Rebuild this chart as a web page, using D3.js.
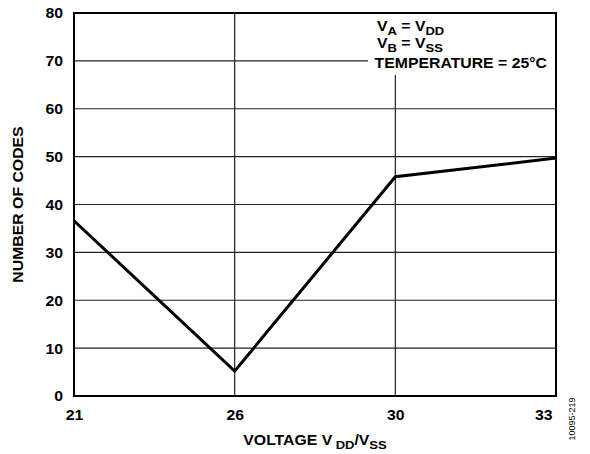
<!DOCTYPE html>
<html><head><meta charset="utf-8">
<script src="https://cdn.jsdelivr.net/npm/d3@7"></script>
<style>body{margin:0;background:#fff}svg{display:block}text{font-family:"Liberation Sans",Arial,sans-serif}</style>
</head><body>
<svg id="c" width="590" height="454"></svg>
<script>
const categories = ["21", "26", "30", "33"];
const codes = [36.6, 5.2, 45.8, 49.7];
const yTicks = [0, 10, 20, 30, 40, 50, 60, 70, 80];

const FONT = '"Liberation Sans",Arial,sans-serif';
const SX = 1.13; // glyph widening to mimic the wide bold face
const svg = d3.select("#c");
const m = {l: 74, r: 556, t: 13, b: 396};
const x = d3.scalePoint().domain(categories).range([m.l, m.r]);
const y = d3.scaleLinear().domain([0, 80]).range([m.b, m.t]);

// gridlines
svg.append("g").selectAll("line").data(yTicks.slice(1, -1)).join("line")
  .attr("x1", m.l).attr("x2", m.r).attr("y1", d => y(d)).attr("y2", d => y(d))
  .attr("stroke", "#222").attr("stroke-width", 1.2);
svg.append("g").selectAll("line").data(categories.slice(1, -1)).join("line")
  .attr("x1", d => x(d)).attr("x2", d => x(d)).attr("y1", m.t).attr("y2", m.b)
  .attr("stroke", "#222").attr("stroke-width", 1.2);

// legend background
svg.append("rect").attr("x", 368).attr("y", m.t + 1).attr("width", m.r - 368 - 1).attr("height", 61).attr("fill", "#fff");

// border
svg.append("rect").attr("x", m.l).attr("y", m.t).attr("width", m.r - m.l).attr("height", m.b - m.t)
  .attr("fill", "none").attr("stroke", "#000").attr("stroke-width", 2);

// data line
const data = categories.map((c, i) => ({c, v: codes[i]}));
svg.append("path").datum(data)
  .attr("d", d3.line().x(d => x(d.c)).y(d => y(d.v)))
  .attr("fill", "none").attr("stroke", "#000").attr("stroke-width", 3).attr("stroke-linejoin", "miter");

// y axis tick labels
const ya = svg.append("g").attr("transform", `translate(${m.l},0)`)
  .call(d3.axisLeft(y).tickValues(yTicks).tickSize(0).tickPadding(0));
ya.select(".domain").remove();
ya.selectAll(".tick text").attr("x", null).attr("dy", "0.35em")
  .attr("transform", `translate(-11,0) scale(${SX},1)`)
  .attr("font-size", 14).attr("font-weight", "bold").attr("fill", "#000").attr("font-family", FONT);

// x axis tick labels
const xa = svg.append("g").attr("transform", `translate(0,${m.b})`)
  .call(d3.axisBottom(x).tickSize(0).tickPadding(0));
xa.select(".domain").remove();
xa.selectAll(".tick text").attr("y", null).attr("dy", null)
  .attr("transform", d => `translate(${d === categories[categories.length - 1] ? -4 : 0},24) scale(${SX},1)`)
  .attr("text-anchor", d => d === categories[categories.length - 1] ? "end" : "middle")
  .attr("font-size", 14).attr("font-weight", "bold").attr("fill", "#000").attr("font-family", FONT);

// axis titles
const xt = svg.append("text").attr("transform", `translate(${(m.l + m.r) / 2},445) scale(${SX},1)`)
  .attr("text-anchor", "middle").attr("font-size", 14).attr("font-weight", "bold");
xt.append("tspan").text("VOLTAGE V");
xt.append("tspan").text("DD").attr("font-size", 11.5).attr("dy", 4).attr("dx", 3);
xt.append("tspan").text("/V").attr("dy", -4);
xt.append("tspan").text("SS").attr("font-size", 11.5).attr("dy", 4);

svg.append("text").attr("transform", `translate(23,${(m.t + m.b) / 2}) rotate(-90) scale(${SX},1)`)
  .attr("text-anchor", "middle").attr("font-size", 14).attr("font-weight", "bold").text("NUMBER OF CODES");

// legend
const lx = 377;
function subLine(main1, s1, main2, s2, yy) {
  const tx = svg.append("text").attr("transform", `translate(${lx},${yy}) scale(${SX},1)`)
    .attr("font-size", 14).attr("font-weight", "bold");
  tx.append("tspan").text(main1);
  tx.append("tspan").text(s1).attr("font-size", 11.5).attr("dy", 4);
  tx.append("tspan").text(main2).attr("dy", -4);
  tx.append("tspan").text(s2).attr("font-size", 11.5).attr("dy", 4);
}
subLine("V", "A", " = V", "DD", 31);
subLine("V", "B", " = V", "SS", 48);
svg.append("text").attr("transform", `translate(547,68) scale(${SX},1)`).attr("text-anchor", "end")
  .attr("font-size", 14).attr("font-weight", "bold").text("TEMPERATURE = 25°C");

// figure id
svg.append("text").attr("transform", "translate(575,419) rotate(-90)").attr("text-anchor", "middle")
  .attr("font-size", 9).text("10095-219");
</script>
</body></html>
